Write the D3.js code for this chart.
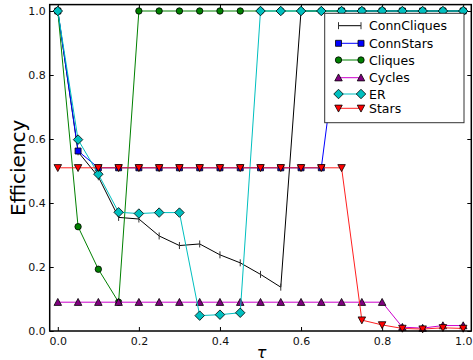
<!DOCTYPE html>
<html>
<head>
<meta charset="utf-8">
<script src="https://cdn.jsdelivr.net/npm/d3@7"></script>
<style>
  html, body { margin: 0; padding: 0; background: #fff; }
  svg { display: block; font-family: "DejaVu Sans", sans-serif; }
</style>
</head>
<body>
<svg id="chart" width="473" height="360"></svg>
<script>
// ---- data ----
const tau = [0, 0.05, 0.1, 0.15, 0.2, 0.25, 0.3, 0.35, 0.4, 0.45, 0.5,
             0.55, 0.6, 0.65, 0.7, 0.75, 0.8, 0.85, 0.9, 0.95, 1.0];
const connCliques = [1.0, 0.56, 0.482, 0.355, 0.35, 0.297, 0.267, 0.272, 0.238, 0.213, 0.177,
                     0.137, 1, 1, 1, 1, 1, 1, 1, 1, 1];
const connStars = [1.0, 0.5625, 0.51, 0.51, 0.51, 0.51, 0.51, 0.51, 0.51, 0.51, 0.51,
                   0.51, 0.51, 0.51, 1, 1, 1, 1, 1, 1, 1];
const cliques = [1.0, 0.326, 0.193, 0.09, 1, 1, 1, 1, 1, 1, 1,
                 1, 1, 1, 1, 1, 1, 1, 1, 1, 1];
const cycles = [0.09, 0.09, 0.09, 0.09, 0.09, 0.09, 0.09, 0.09, 0.09, 0.09, 0.09,
                0.09, 0.09, 0.09, 0.09, 0.09, 0.09, 0.012, 0.009, 0.017, 0.017];
const er = [1.0, 0.598, 0.49, 0.371, 0.367, 0.37, 0.37, 0.048, 0.051, 0.057, 1,
            1, 1, 1, 1, 1, 1, 1, 1, 1, 1];
const stars = [0.51, 0.51, 0.51, 0.51, 0.51, 0.51, 0.51, 0.51, 0.51, 0.51, 0.51,
               0.51, 0.51, 0.51, 0.51, 0.034, 0.019, 0.008, 0.006, 0.01, 0.008];
const seriesNames = ["ConnCliques", "ConnStars", "Cliques", "Cycles", "ER", "Stars"];
const xTicks = [0.0, 0.2, 0.4, 0.6, 0.8, 1.0];
const yTicks = [0.0, 0.2, 0.4, 0.6, 0.8, 1.0];

// ---- styles ----
const styles = {
  ConnCliques: { values: connCliques, line: "#000000", fill: "#000000", marker: "vline", size: 7 },
  ConnStars:   { values: connStars,   line: "#0000ff", fill: "#0000ff", marker: "square", size: 6 },
  Cliques:     { values: cliques,     line: "#008000", fill: "#008000", marker: "circle", size: 6.4 },
  Cycles:      { values: cycles,      line: "#cc00cc", fill: "#800080", marker: "tri_up", size: 7.5 },
  ER:          { values: er,          line: "#00bfbf", fill: "#00bfbf", marker: "diamond", size: 9.5 },
  Stars:       { values: stars,       line: "#ff2020", fill: "#ff0000", marker: "tri_down", size: 7.5 }
};

const svg = d3.select("#chart");
const L = 49.7, R = 471.3, T = 4.6, B = 331;
const x = d3.scaleLinear().domain([-0.02, 1.02]).range([L, R]);
const y = d3.scaleLinear().domain([0, 1.02]).range([B, T]);

function markerPath(type, s) {
  const p = d3.path();
  const h = s / 2;
  if (type === "square") { p.rect(-h, -h, s, s); }
  else if (type === "circle") { p.arc(0, 0, h, 0, 2 * Math.PI); p.closePath(); }
  else if (type === "diamond") { p.moveTo(0, -h); p.lineTo(h, 0); p.lineTo(0, h); p.lineTo(-h, 0); p.closePath(); }
  else if (type === "tri_up") { p.moveTo(0, -h); p.lineTo(h, h * 0.85); p.lineTo(-h, h * 0.85); p.closePath(); }
  else if (type === "tri_down") { p.moveTo(0, h); p.lineTo(h, -h * 0.85); p.lineTo(-h, -h * 0.85); p.closePath(); }
  else if (type === "vline") { p.moveTo(0, -h); p.lineTo(0, h); }
  return p.toString();
}

function drawMarker(g, st, cx, cy) {
  const path = g.append("path")
    .attr("d", markerPath(st.marker, st.size))
    .attr("transform", `translate(${cx},${cy})`);
  if (st.marker === "vline") {
    path.attr("fill", "none").attr("stroke", "#333").attr("stroke-width", 1);
  } else {
    path.attr("fill", st.fill).attr("stroke", "#000").attr("stroke-width", 0.8);
  }
}

// ---- axes / ticks (inward, all four sides) ----
const axG = svg.append("g");
const axB = d3.axisBottom(x).tickValues(xTicks).tickFormat(d3.format(".1f")).tickSize(-4).tickPadding(6);
const axT = d3.axisTop(x).tickValues(xTicks).tickFormat("").tickSize(-4);
const axLf = d3.axisLeft(y).tickValues(yTicks).tickFormat(d3.format(".1f")).tickSize(-4).tickPadding(4);
const axRt = d3.axisRight(y).tickValues(yTicks).tickFormat("").tickSize(-4);
function styleAxis(g) {
  g.select(".domain").remove();
  g.selectAll(".tick line").attr("stroke", "#000").attr("stroke-width", 1);
  g.selectAll(".tick text").attr("fill", "#111").style("font-size", "11px").style("font-family", "DejaVu Sans, sans-serif");
}
axG.append("g").attr("transform", `translate(0,${B})`).call(axB).call(styleAxis);
axG.append("g").attr("transform", `translate(0,${T})`).call(axT).call(styleAxis);
axG.append("g").attr("transform", `translate(${L},0)`).call(axLf).call(styleAxis);
axG.append("g").attr("transform", `translate(${R},0)`).call(axRt).call(styleAxis);

// ---- series ----
const plot = svg.append("g");
const lineGen = d3.line().x((d, i) => x(tau[i])).y(d => y(d));
seriesNames.forEach(name => {
  const st = styles[name];
  const g = plot.append("g");
  g.append("path")
    .attr("d", lineGen(st.values))
    .attr("fill", "none")
    .attr("stroke", st.line)
    .attr("stroke-width", 1);
  st.values.forEach((v, i) => drawMarker(g, st, x(tau[i]), y(v)));
});

// ---- frame ----
svg.append("rect").attr("x", L).attr("y", T).attr("width", R - L).attr("height", B - T)
  .attr("fill", "none").attr("stroke", "#000").attr("stroke-width", 1.5);

// ---- axis labels ----
svg.append("text")
  .attr("transform", `translate(25,${(T + B) / 2}) rotate(-90)`)
  .attr("text-anchor", "middle")
  .style("font-size", "20px")
  .attr("fill", "#000")
  .text("Efficiency");
svg.append("text")
  .attr("x", (L + R) / 2 + 1).attr("y", 357.5)
  .attr("text-anchor", "middle")
  .style("font-size", "16px")
  .style("font-style", "oblique")
  .style("font-family", "DejaVu Sans, sans-serif")
  .attr("fill", "#000")
  .text("τ");

// ---- legend ----
const lg = svg.append("g");
const lgX = 324.7, lgY = 13.3, lgW = 139.3, lgH = 109.4;
lg.append("rect").attr("x", lgX).attr("y", lgY).attr("width", lgW).attr("height", lgH)
  .attr("fill", "#fff").attr("stroke", "#333").attr("stroke-width", 1);
const rowY = [25.7, 43.3, 60, 77.7, 94, 108.3];
seriesNames.forEach((name, i) => {
  const st = styles[name];
  const cy = rowY[i];
  const x1 = 338.5, x2 = 361;
  lg.append("line").attr("x1", x1).attr("x2", x2).attr("y1", cy).attr("y2", cy)
    .attr("stroke", st.line).attr("stroke-width", 1);
  drawMarker(lg, st, x1, cy);
  drawMarker(lg, st, x2, cy);
  lg.append("text").attr("x", 369).attr("y", cy + 4.5)
    .style("font-size", "12.5px").attr("fill", "#000").text(name);
});
</script>
</body>
</html>
